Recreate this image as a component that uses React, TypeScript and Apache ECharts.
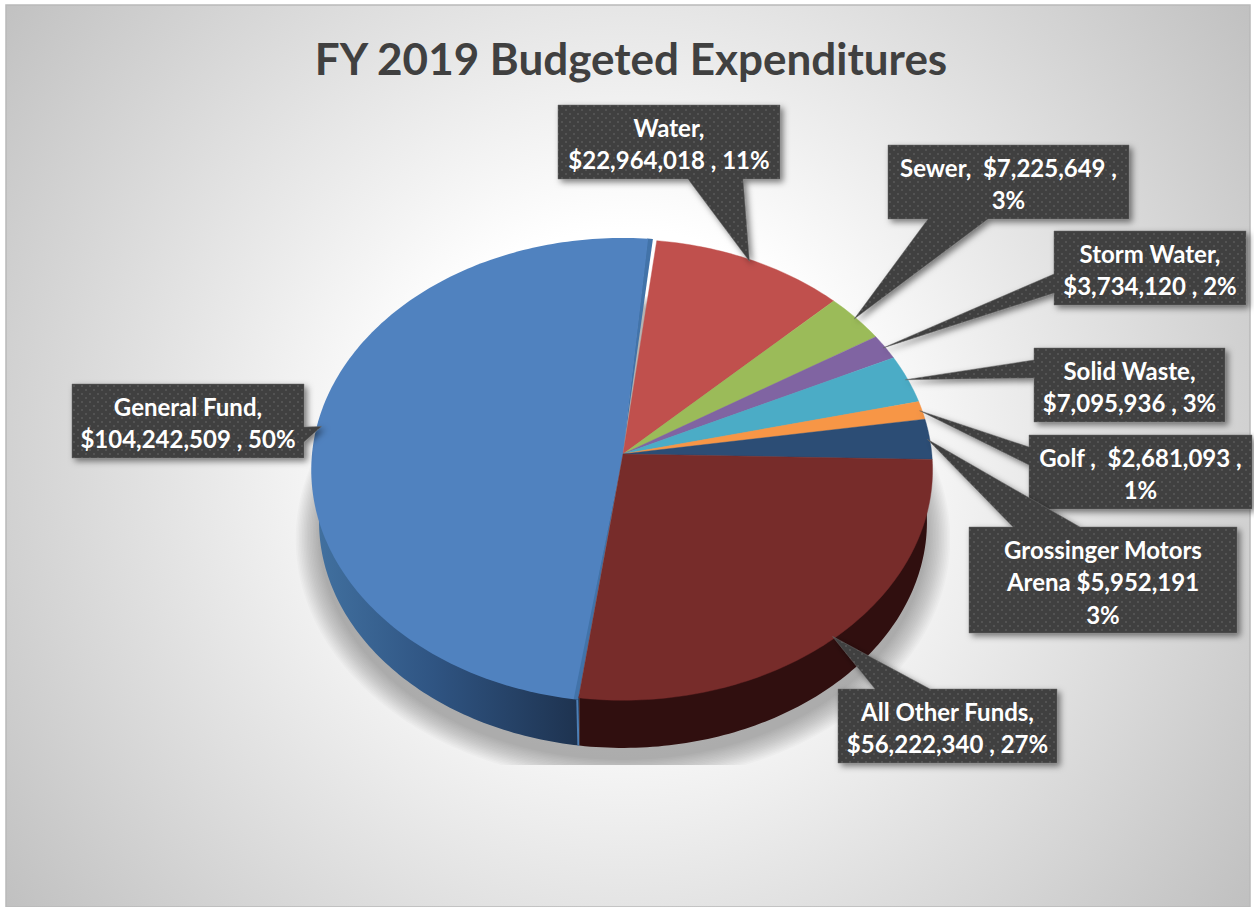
import React, { useEffect, useRef } from "react";
import * as echarts from "echarts";

// ---------- data ----------
const categories = ["General Fund", "Water", "Sewer", "Storm Water", "Solid Waste", "Golf", "Grossinger Motors Arena", "All Other Funds"];
const values = [104242509, 22964018, 7225649, 3734120, 7095936, 2681093, 5952191, 56222340];
const labelLines = [
  ["General Fund,", "$104,242,509 , 50%"],
  ["Water,", "$22,964,018 , 11%"],
  ["Sewer,  $7,225,649 ,", "3%"],
  ["Storm Water,", "$3,734,120 , 2%"],
  ["Solid Waste,", "$7,095,936 , 3%"],
  ["Golf ,  $2,681,093 ,", "1%"],
  ["Grossinger Motors", "Arena $5,952,191", "3%"],
  ["All Other Funds,", "$56,222,340 , 27%"],
];
const titleText = "FY 2019 Budgeted Expenditures";

// ---------- styles / layout ----------
const faceColors = ["#5082bf", "#c0504d", "#9bbb59", "#8064a2", "#4bacc6", "#f79646", "#2c4d75", "#772c2a"];
// label box: x, y, w, h ; pointer base: side, from, to
const boxes = [
  [72, 384, 232, 74, "right", 427, 442],
  [558, 105, 222, 74, "bottom", 688, 743],
  [888, 145, 241, 74, "bottom", 928, 988],
  [1054, 231, 192, 74, "left", 274, 293],
  [1034, 348, 191, 74, "left", 360, 378],
  [1029, 435, 223, 74, "left", 447, 465],
  [969, 527, 268, 106, "top", 1013, 1080],
  [838, 689, 219, 74, "top", 875, 930],
];
const START = 187.7;
const HUB = [623, 454];
const A = 311, B = 231, K = 0.069;
const DEPTH = 52, LOWER = 0.975;
const FONT = "Lato";
const SHADOW_LAYERS = 16;

const total = values.reduce((a, b) => a + b, 0);
const startOf = (i: number) => START + (values.slice(0, i).reduce((a, b) => a + b, 0) / total) * 360;
const endOf = (i: number) => startOf(i + 1);

// perspective projection of the pie's circle
function rim(deg: number, f = 1): number[] {
  const t = (deg * Math.PI) / 180;
  const u = Math.sin(t) * f, v = -Math.cos(t) * f;
  const d = 1 - K * v;
  return [HUB[0] + (A * u) / d, HUB[1] + (B * v) / d];
}
function lower(deg: number, dy = DEPTH, s = LOWER): number[] {
  const p = rim(deg);
  return [HUB[0] + (p[0] - HUB[0]) * s, HUB[1] + dy + (p[1] - HUB[1]) * s];
}
function arc(a: number, b: number, fn: (d: number) => number[]) {
  const n = Math.max(2, Math.ceil(Math.abs(b - a)));
  const pts: number[][] = [];
  for (let i = 0; i <= n; i++) pts.push(fn(a + ((b - a) * i) / n));
  return pts;
}

function dotPattern() {
  const c = document.createElement("canvas");
  c.width = 8; c.height = 8;
  const g = c.getContext("2d")!;
  g.fillStyle = "#404040"; g.fillRect(0, 0, 8, 8);
  g.fillStyle = "#535353";
  g.fillRect(1, 1, 2, 2); g.fillRect(5, 5, 2, 2);
  return { image: c.toDataURL(), repeat: "repeat" };
}

// soft shadow: stacked translucent outlines, clipped to the plot rectangle
function shadowItem() {
  const children: any[] = [];
  for (let k = 0; k < SHADOW_LAYERS; k++) {
    const f = k / (SHADOW_LAYERS - 1);
    children.push({
      type: "polygon",
      shape: { points: arc(0, 360, (d) => lower(d, DEPTH + 16 - 4 * f, 1.05 - 0.075 * f)) },
      style: { fill: "rgba(0,0,0,0.018)" },
    });
  }
  return {
    type: "group",
    clipPath: { type: "rect", shape: { x: 294, y: 200, width: 656, height: 565 } },
    children,
  };
}

function wallItem(i: number) {
  const a = startOf(i), b = endOf(i);
  const [from, to] = i === 0 ? [a, 285] : [a, b];
  const pts = arc(from, to, (d) => rim(d, 0.98)).concat(arc(to, from, (d) => lower(d)));
  const fill = i === 0
    ? { type: "linear", x: 318, y: 0, x2: 577, y2: 0, global: true,
        colorStops: [{ offset: 0, color: "#41709f" }, { offset: 0.45, color: "#2f5482" }, { offset: 1, color: "#1e3350" }] }
    : "#300f0f";
  const children: any[] = [{ type: "polygon", shape: { points: pts }, style: { fill } }];
  if (i === 0) {
    const p = rim(a), q = lower(a);
    children.push({ type: "line", shape: { x1: p[0] - 1, y1: p[1], x2: q[0] - 1, y2: q[1] }, style: { stroke: "#4d7fb5", lineWidth: 2 } });
  }
  return { type: "group", children };
}

function faceItem(i: number) {
  let a = startOf(i), b = endOf(i);
  const children: any[] = [];
  const color = faceColors[i];
  const f = i === 0 ? 1 : 0.993;
  if (i === 0) {
    // the exploded slice shows its darker cut edges and a small white gap at the top
    const tip = [HUB[0], HUB[1] - 1];
    children.push({ type: "polygon", shape: { points: [tip, ...arc(a, a + 1, (d) => rim(d))] }, style: { fill: "#4273a9" } });
    children.push({ type: "polygon", shape: { points: [tip, ...arc(b - 1.5, b - 0.4, (d) => rim(d))] }, style: { fill: "#4273a9" } });
    a += 0.8; b -= 1.35;
  }
  if (i === 1) a += 0.4;
  children.push({
    type: "polygon",
    shape: { points: [HUB, ...arc(a, b, (d) => rim(d, f))] },
    style: { fill: color, stroke: color, lineWidth: i === 0 ? 0 : 0.4 },
  });
  return { type: "group", children };
}

function calloutPoints(i: number) {
  const [x, y, w, h, side, p, q] = boxes[i] as [number, number, number, number, string, number, number];
  const tip = rim((startOf(i) + endOf(i)) / 2, 0.985);
  const r = x + w, btm = y + h;
  if (side === "right") return [[x, y], [r, y], [r, p], tip, [r, q], [r, btm], [x, btm]];
  if (side === "left") return [[x, y], [r, y], [r, btm], [x, btm], [x, q], tip, [x, p]];
  if (side === "bottom") return [[x, y], [r, y], [r, btm], [q, btm], tip, [p, btm], [x, btm]];
  return [[x, y], [p, y], tip, [q, y], [r, y], [r, btm], [x, btm]];
}

function calloutItem(i: number, pattern: any) {
  const [x, y, w, h] = boxes[i] as number[];
  const lines = labelLines[i];
  const lh = 32.5, cy = y + h / 2 + 1.5;
  return {
    type: "group",
    children: [
      {
        type: "polygon",
        shape: { points: calloutPoints(i) },
        style: { fill: pattern, stroke: "#6a6a6a", lineWidth: 0.5, shadowBlur: 6, shadowOffsetX: 3, shadowOffsetY: 3, shadowColor: "rgba(0,0,0,0.5)" },
      },
      ...lines.map((t, k) => ({
        type: "text",
        z2: 10,
        style: {
          text: t, x: x + w / 2, y: cy + (k - (lines.length - 1) / 2) * lh,
          align: "center", verticalAlign: "middle",
          fill: "#ffffff", font: `bold 24px ${FONT}`,
        },
      })),
    ],
  };
}

export default function App() {
  const ref = useRef<HTMLDivElement>(null);
  useEffect(() => {
    document.body.style.margin = "0";
    document.body.style.background = "#ffffff";
    const chart = echarts.init(ref.current!, null, { renderer: "svg" });
    const pattern = dotPattern();
    const rows = categories.map((c, i) => [c, values[i]]);
    const mk = (renderItem: any, data: any[]) => ({ type: "custom", coordinateSystem: "none", silent: true, renderItem, data, clip: false });
    chart.setOption({
      animation: false,
      title: {
        text: titleText, left: 626, top: 31, textAlign: "center",
        textStyle: { color: "#404040", fontFamily: FONT, fontWeight: "bold", fontSize: 44 },
      },
      graphic: [{
        type: "rect", z: -10,
        shape: { x: 6, y: 5, width: 1244, height: 902 },
        style: {
          stroke: "#b9b9b9", lineWidth: 1.5,
          fill: { type: "radial", x: 625, y: 450, r: 790, global: true,
            colorStops: [{ offset: 0, color: "#ffffff" }, { offset: 0.28, color: "#ffffff" }, { offset: 1, color: "#bebebe" }] },
        },
      }],
      series: [
        mk(() => shadowItem(), [["shadow", 1]]),
        mk((p: any) => (p.dataIndex === 0 || p.dataIndex === 7 ? wallItem(p.dataIndex) : { type: "group", children: [] }), rows),
        mk((p: any) => faceItem(p.dataIndex), rows),
        mk((p: any) => calloutItem(p.dataIndex, pattern), rows),
      ],
    });
    return () => chart.dispose();
  }, []);
  return <div ref={ref} style={{ width: 1254, height: 907 }} />;
}
